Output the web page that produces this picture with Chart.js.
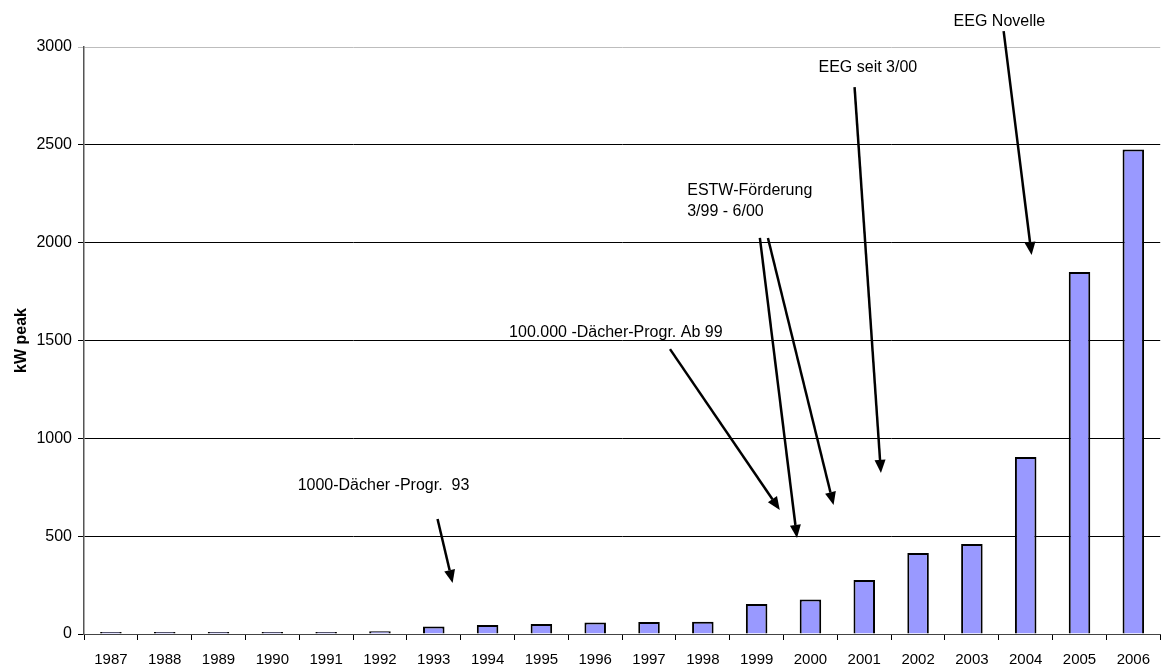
<!DOCTYPE html>
<html>
<head>
<meta charset="utf-8">
<script src="https://cdn.jsdelivr.net/npm/chart.js@4/dist/chart.umd.min.js"></script>
<style>
  html, body { margin: 0; padding: 0; background: #fff; }
  canvas { display: block; }
</style>
</head>
<body>
<canvas id="pv" width="1161" height="666"></canvas>
<script>
// Daten
const jahre = ["1987","1988","1989","1990","1991","1992","1993","1994","1995","1996",
               "1997","1998","1999","2000","2001","2002","2003","2004","2005","2006"];
const kwPeak = [1, 2, 3, 3, 4, 14, 38, 46, 51, 59, 61, 62, 153, 176, 276, 414, 460, 905, 1850, 2476];
const yTicks = [0, 500, 1000, 1500, 2000, 2500, 3000];

// Anmerkungen: Text + Pfeile, in Datenkoordinaten (Kategorie-Index, kW peak)
const anmerkungen = [
  { text: ["1000-Dächer -Progr.  93"], x: 3.47, y: 756,
    pfeile: [[6.07, 588, 6.35, 261]] },
  { text: ["100.000 -Dächer-Progr. Ab 99"], x: 7.40, y: 1538,
    pfeile: [[10.39, 1456, 12.43, 634]] },
  { text: ["ESTW-Förderung", "3/99 - 6/00"], x: 10.71, y: 2264,
    pfeile: [[12.06, 2024, 12.75, 491], [12.21, 2024, 13.43, 659]] },
  { text: ["EEG seit 3/00"], x: 13.15, y: 2897,
    pfeile: [[13.82, 2795, 14.31, 823]] },
  { text: ["EEG Novelle"], x: 15.66, y: 3132,
    pfeile: [[16.59, 3081, 17.11, 1937]] }
];

const schrift = "'Liberation Sans', Arial, sans-serif";

function pfeil(ctx, x1, y1, x2, y2) {
  const ang = Math.atan2(y2 - y1, x2 - x1);
  const len = 13, halb = 5.5;
  const bx = x2 - len * Math.cos(ang), by = y2 - len * Math.sin(ang);
  ctx.beginPath();
  ctx.moveTo(x1, y1);
  ctx.lineTo(bx, by);
  ctx.stroke();
  ctx.beginPath();
  ctx.moveTo(x2, y2);
  ctx.lineTo(bx + halb * Math.sin(ang), by - halb * Math.cos(ang));
  ctx.lineTo(bx - halb * Math.sin(ang), by + halb * Math.cos(ang));
  ctx.closePath();
  ctx.fill();
}

const anmerkungPlugin = {
  id: 'anmerkungen',
  afterDraw(chart) {
    const ctx = chart.ctx;
    const xs = chart.scales.x, ys = chart.scales.y;
    ctx.save();
    ctx.fillStyle = '#000';
    ctx.strokeStyle = '#000';
    ctx.lineWidth = 2.5;
    ctx.font = "16px " + schrift;
    ctx.textAlign = 'left';
    ctx.textBaseline = 'middle';
    anmerkungen.forEach(a => {
      const tx = xs.getPixelForValue(a.x), ty = ys.getPixelForValue(a.y);
      a.text.forEach((zeile, i) => ctx.fillText(zeile, tx, ty + i * 21));
      a.pfeile.forEach(p => {
        pfeil(ctx, xs.getPixelForValue(p[0]), ys.getPixelForValue(p[1]),
                   xs.getPixelForValue(p[2]), ys.getPixelForValue(p[3]));
      });
    });
    ctx.restore();
  }
};

const ctx = document.getElementById('pv').getContext('2d');
const chart = new Chart(ctx, {
  type: 'bar',
  data: {
    labels: jahre,
    datasets: [{
      label: 'kW peak',
      data: kwPeak,
      backgroundColor: '#9999FF',
      borderColor: '#000',
      borderWidth: 2,
      minBarLength: 2,
      barPercentage: 0.4,
      categoryPercentage: 1.0
    }]
  },
  options: {
    responsive: false,
    animation: false,
    devicePixelRatio: 1,
    layout: { padding: { top: 47, right: 0, bottom: 0, left: 0 } },
    plugins: {
      legend: { display: false },
      tooltip: { enabled: false }
    },
    scales: {
      x: {
        offset: true,
        grid: { offset: true, drawOnChartArea: false, drawTicks: true, tickLength: 6, color: '#000' },
        border: { color: '#444', width: 1 },
        ticks: { color: '#000', font: { family: schrift, size: 15 }, padding: 11, maxRotation: 0, autoSkip: false },
        afterFit(s) { s.height = 32; }
      },
      y: {
        min: 0,
        max: 3000,
        afterBuildTicks(s) { s.ticks = yTicks.map(v => ({ value: v })); },
        grid: {
          color: c => (c.tick && c.tick.value === 3000) ? '#bdbdbd' : '#000',
          lineWidth: 1,
          tickLength: 6,
          drawTicks: true
        },
        border: { color: '#555', width: 1.5 },
        ticks: {
          color: '#000',
          font: { family: schrift, size: 16 },
          padding: 6,
          callback: v => String(v)
        },
        title: {
          display: true,
          text: 'kW peak',
          color: '#000',
          font: { family: schrift, size: 16, weight: 'bold' },
          padding: { top: 12, bottom: 0 }
        },
        afterFit(s) { s.width = 84; }
      }
    }
  },
  plugins: [anmerkungPlugin]
});
</script>
</body>
</html>
